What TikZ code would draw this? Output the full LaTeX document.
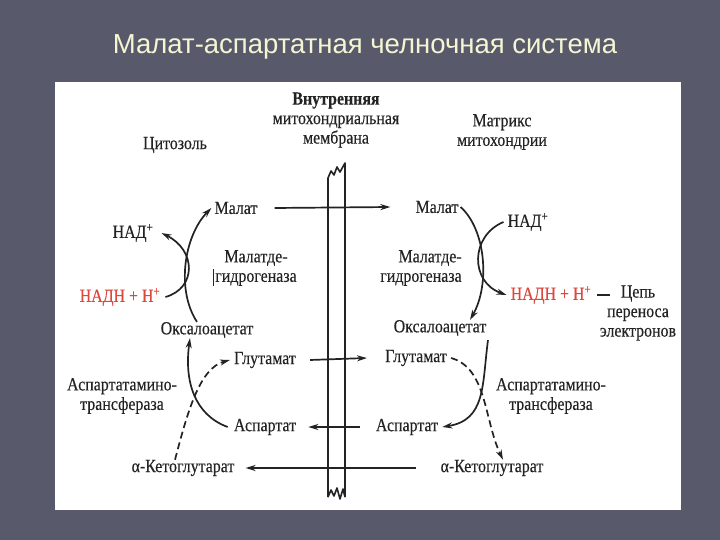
\documentclass[tikz,border=0pt]{standalone}
\usepackage{fontspec}
\setmainfont{Liberation Serif}[FakeStretch=0.86, FakeBold=0.3]
\newfontfamily\slidefont{Liberation Sans}
\usetikzlibrary{arrows.meta}
\definecolor{slidebg}{RGB}{88,90,108}
\definecolor{titlecol}{RGB}{245,245,212}
\definecolor{nadhred}{RGB}{222,72,60}
\definecolor{inkcol}{RGB}{35,35,35}

\begin{document}
\begin{tikzpicture}[x=1pt, y=-1pt,
Label/.style={inner sep=0pt, align=center, text=inkcol, font=\fontsize{18.5}{19.5}\selectfont},
RedLabel/.style={Label, text=nadhred},
Flow/.style={-{Stealth[length=10pt, width=6pt]}, line width=1.7pt, draw=inkcol},
DashFlow/.style={Flow, dash pattern=on 7pt off 4pt},
Membrane/.style={line width=1.6pt, draw=inkcol, line join=round}]

\useasboundingbox (0,0) rectangle (720,540);
\fill[slidebg] (0,0) rectangle (720,540);
\fill[white] (55,82) rectangle (681,510);

\node[font=\slidefont\fontsize{27.5}{30}\selectfont, text=titlecol, inner sep=0pt] (title) at (365,47) {Малат-аспартатная челночная система};

\node[Label] (memb) at (336,120) {\textbf{Внутренняя}\\митохондриальная\\мембрана};
\node[Label] (cyto) at (175,145) {Цитозоль};
\node[Label] (matrix) at (502,132) {Матрикс\\митохондрии};

\node[Label] (malC) at (236,208) {Малат};
\node[Label] (nadC) at (133,233) {НАД\textsuperscript{+}};
\node[Label] (mdhC) at (256,268) {Малатде-\\гидрогеназа};
\node[RedLabel] (nadhC) at (120,297) {НАДН + Н\textsuperscript{+}};
\node[Label] (oaaC) at (207,330) {Оксалоацетат};
\node[Label] (gluC) at (265,360) {Глутамат};
\node[Label] (astC) at (122,396) {Аспартатамино-\\трансфераза};
\node[Label] (aspC) at (265,427) {Аспартат};
\node[Label] (akgC) at (183,468) {α-Кетоглутарат};

\node[Label] (malM) at (437,207) {Малат};
\node[Label] (nadM) at (528,222) {НАД\textsuperscript{+}};
\node[Label, align=right] (mdhM) at (421,268) {Малатде-\\гидрогеназа};
\node[RedLabel] (nadhM) at (551,295) {НАДН + Н\textsuperscript{+}};
\node[Label] (etc) at (638,313) {Цепь\\переноса\\электронов};
\node[Label] (oaaM) at (440,328) {Оксалоацетат};
\node[Label] (gluM) at (416,358) {Глутамат};
\node[Label] (astM) at (551,396) {Аспартатамино-\\трансфераза};
\node[Label] (aspM) at (407,427) {Аспартат};
\node[Label] (akgM) at (492,468) {α-Кетоглутарат};

\draw[Membrane] (328,497) -- (328,178) -- (331,171) -- (334,175) -- (337,167) -- (340,172) -- (345,163) -- (345,497);
\draw[Membrane] (328,497) -- (331,490) -- (334,496) -- (337,488) -- (340,499) -- (343,489) -- (345,497);
\draw[line width=1pt, draw=inkcol] ([xshift=-2pt]mdhC.south west) -- ++(0,-17);

\draw[Flow] ([xshift=17pt]malC.east) -- ([xshift=-25pt]malM.west);
\draw[Flow] ([xshift=14pt]gluC.east) -- ([xshift=-18pt]gluM.west);
\draw[Flow] ([xshift=-16pt]aspM.west) -- ([xshift=12pt]aspC.east);
\draw[Flow] ([xshift=-24pt]akgM.west) -- ([xshift=11pt]akgC.east);

\draw[Flow] ([xshift=-10pt]oaaC.north) .. controls (176,290) and (184,236) .. ([xshift=-3pt]malC.west);
\draw[Flow] ([xshift=5pt]nadhC.east) .. controls (197,288) and (196,250) .. ([xshift=8pt]nadC.east);
\draw[Flow] ([xshift=2pt]malM.east) .. controls (486,230) and (490,285) .. ([xshift=30pt]oaaM.north);
\draw[Flow] ([xshift=-4pt]nadM.west) .. controls (470,236) and (470,282) .. ([xshift=-4pt]nadhM.west);

\draw[Flow] ([xshift=-6pt]aspC.west) .. controls (195,415) and (184,382) .. ([xshift=-17pt]oaaC.south);
\draw[DashFlow] ([xshift=-8pt]akgC.north) .. controls (188,410) and (200,368) .. ([xshift=-4pt]gluC.west);
\draw[Flow] ([xshift=48pt,yshift=-4pt]oaaM.south) .. controls (482,385) and (486,420) .. ([xshift=4pt]aspM.east);
\draw[DashFlow] ([xshift=4pt]gluM.east) .. controls (487,368) and (484,420) .. ([xshift=11pt]akgM.north);

\draw[line width=1.6pt, draw=inkcol] ([xshift=6pt]nadhM.east) -- ++(13,0);
\end{tikzpicture}
\end{document}
